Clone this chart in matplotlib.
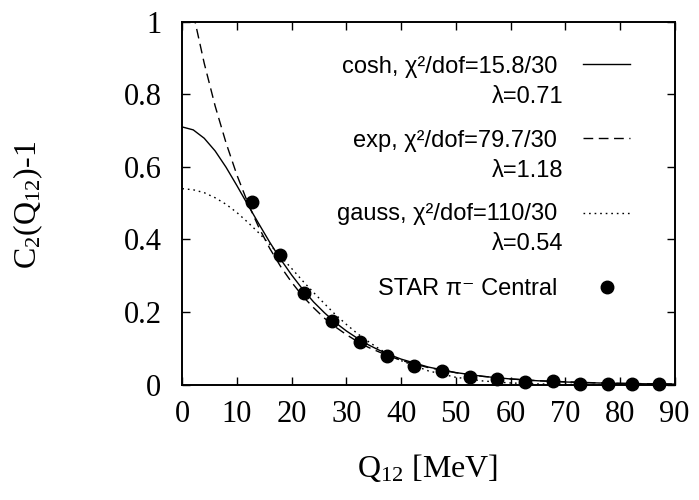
import matplotlib
matplotlib.use("Agg")
from matplotlib import pyplot as plt

# STAR pi- central correlation data
q_data = [12.7, 17.8, 22.3, 27.3, 32.4, 37.4, 42.4, 47.5, 52.6, 57.6,
          62.6, 67.7, 72.7, 77.8, 82.3, 87.1]
c2_data = [0.502, 0.357, 0.253, 0.175, 0.118, 0.079, 0.052, 0.038, 0.022, 0.016,
           0.008, 0.010, 0.002, 0.001, 0.001, 0.001]

# fit curves, values read at these Q12 points
q_fit = [0, 2, 4, 6, 8, 10, 12, 14, 16, 18, 20, 22, 24, 26, 28, 30, 32, 34, 36, 38, 40,
         45, 50, 55, 60, 65, 70, 75, 80, 85, 90]
cosh_fit = [0.710, 0.702, 0.679, 0.644, 0.599, 0.548, 0.495, 0.443, 0.392, 0.345, 0.302,
            0.263, 0.228, 0.198, 0.171, 0.148, 0.128, 0.110, 0.095, 0.082, 0.0705,
            0.0485, 0.0334, 0.0229, 0.0158, 0.0108, 0.0075, 0.0051, 0.0035, 0.0024, 0.0017]
exp_fit = [1.180, 1.023, 0.886, 0.768, 0.666, 0.577, 0.500, 0.433, 0.375, 0.325, 0.282,
           0.244, 0.212, 0.183, 0.159, 0.138, 0.119, 0.103, 0.090, 0.078, 0.067,
           0.047, 0.033, 0.023, 0.016, 0.011, 0.008, 0.0055, 0.0038, 0.0027, 0.0019]
gauss_fit = [0.540, 0.537, 0.529, 0.515, 0.497, 0.474, 0.447, 0.418, 0.386, 0.353, 0.320,
             0.286, 0.254, 0.223, 0.193, 0.166, 0.141, 0.119, 0.0986, 0.0812, 0.0663,
             0.0380, 0.0204, 0.0102, 0.0048, 0.0021, 0.0009, 0.0004, 0.0001, 0.0, 0.0]

labels = ["cosh, χ²/dof=15.8/30", "exp, χ²/dof=79.7/30", "gauss, χ²/dof=110/30"]
lambdas = ["λ=0.71", "λ=1.18", "λ=0.54"]
data_label = "STAR π⁻ Central"

x_ticks = [0, 10, 20, 30, 40, 50, 60, 70, 80, 90]
y_ticks = [0, 0.2, 0.4, 0.6, 0.8, 1]
y_ticklabels = ["0", "0.2", "0.4", "0.6", "0.8", "1"]

plt.rcParams["mathtext.fontset"] = "custom"
plt.rcParams["mathtext.rm"] = "Liberation Serif"
plt.rcParams["mathtext.it"] = "Liberation Serif:italic"

fig = plt.figure(figsize=(6.99, 5.0), dpi=100)
ax = fig.add_axes([0.2608, 0.2306, 0.7043, 0.7260])

styles = [dict(ls="-"), dict(ls=(0, (7, 4))), dict(ls=(0, (1.2, 2.8)))]
curves = [cosh_fit, exp_fit, gauss_fit]
for vals, st in zip(curves, styles):
    ax.plot(q_fit, vals, color="black", lw=1.0, **st)

ax.plot(q_data, c2_data, "o", color="black", ms=9, clip_on=False, zorder=5)

ax.set_xlim(0, 90)
ax.set_ylim(0, 1)
ax.set_xticks(x_ticks)
ax.set_yticks(y_ticks)
ax.set_yticklabels(y_ticklabels)
ax.tick_params(direction="in", length=6, width=1, top=True, right=True,
               labelsize=22)
ax.tick_params(axis="x", pad=11)
ax.tick_params(axis="y", pad=15)
for lab in ax.get_xticklabels() + ax.get_yticklabels():
    lab.set_family("Liberation Serif")
for sp in ax.spines.values():
    sp.set_linewidth(1.4)

fig.text(28 / 699, 1 - 205 / 500, r"$\mathrm{C_2(Q_{12})}$-1", rotation=90,
         ha="center", va="center", fontsize=23, family="Liberation Serif")
fig.text(428 / 699, 1 - 468 / 500, r"$\mathrm{Q_{12}}$ [MeV]",
         ha="center", va="center", fontsize=23, family="Liberation Serif")

# key, drawn gnuplot style
fam = ["Liberation Sans", "DejaVu Sans"]
row_y = [0.875, 0.672, 0.470]
line_y = [0.883, 0.679, 0.474]
for i in range(3):
    ax.text(0.761, row_y[i], labels[i], transform=ax.transAxes, ha="right",
            va="center", fontsize=17, family=fam)
    ax.text(0.774, row_y[i] - 0.083, lambdas[i], transform=ax.transAxes, ha="right",
            va="center", fontsize=17, family=fam)
    ax.plot([0.813, 0.910], [line_y[i], line_y[i]], color="black", lw=1.0,
            transform=ax.transAxes, **styles[i])
ax.text(0.761, 0.265, data_label, transform=ax.transAxes, ha="right",
        va="center", fontsize=17, family=fam)
ax.plot([0.862], [0.270], "o", color="black", ms=9, transform=ax.transAxes)

plt.savefig("out.png", dpi=100)
